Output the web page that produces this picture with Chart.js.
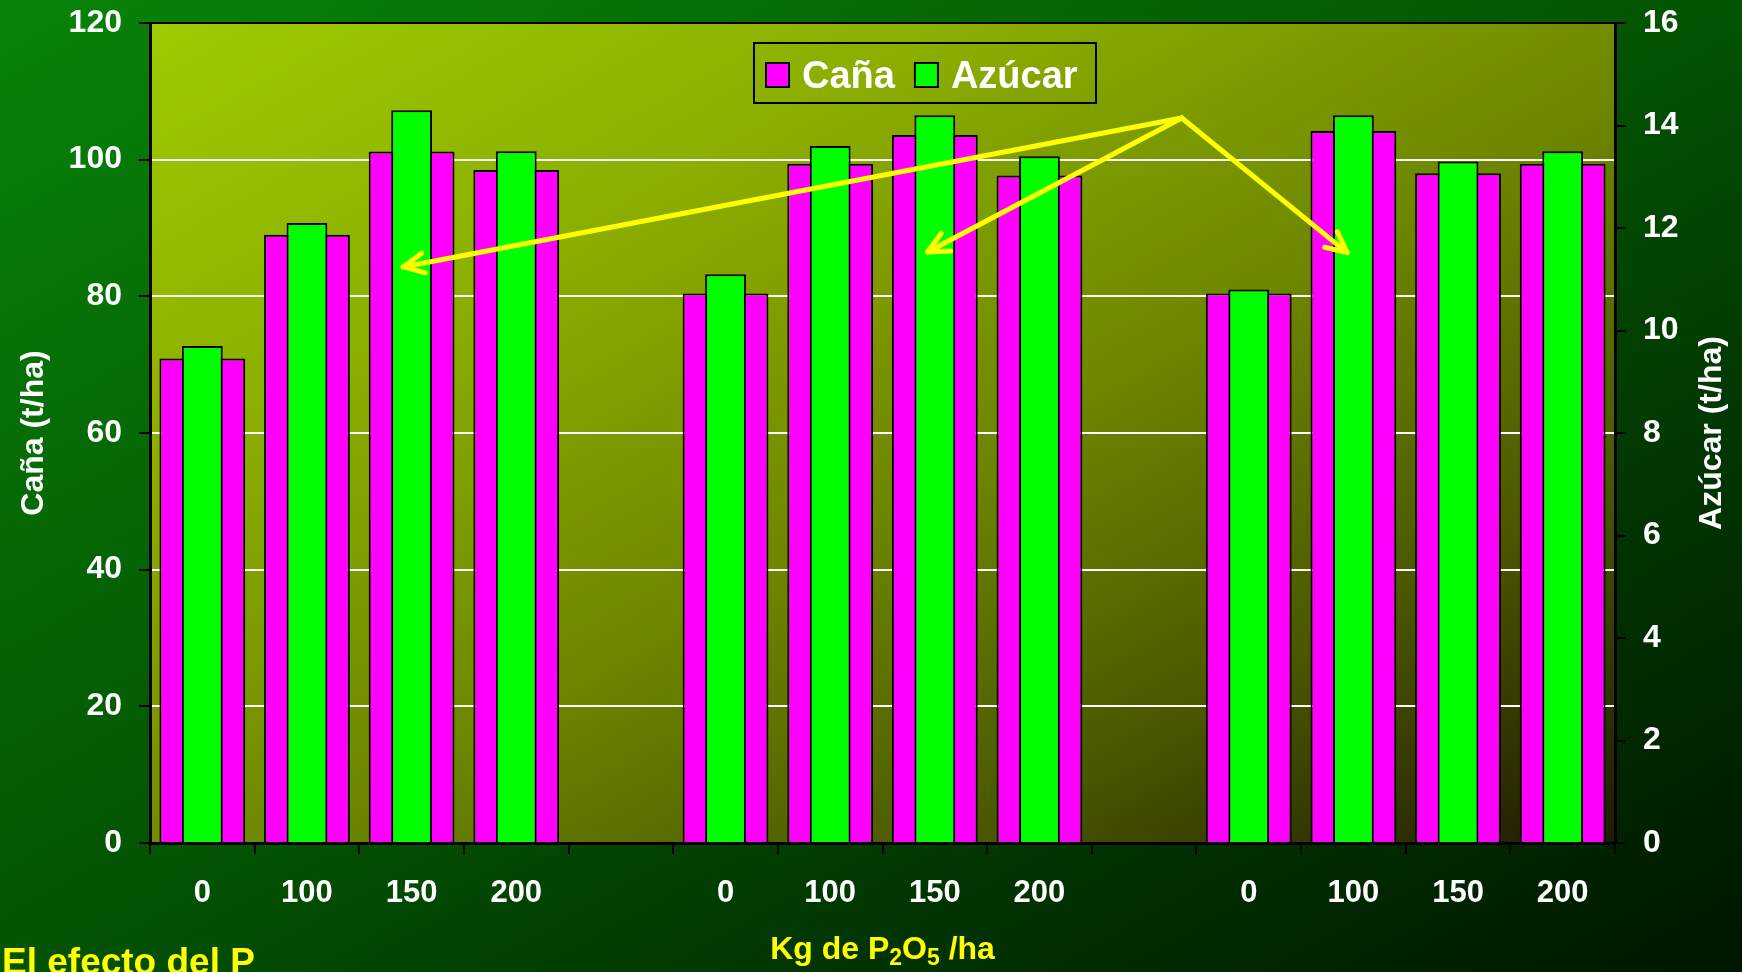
<!DOCTYPE html>
<html>
<head>
<meta charset="utf-8">
<script src="https://cdn.jsdelivr.net/npm/chart.js@4/dist/chart.umd.min.js"></script>
<style>
  html, body { margin: 0; padding: 0; overflow: hidden; }
  #wrap {
    width: 1742px; height: 972px; position: relative;
    background: linear-gradient(to bottom right, #088408 0%, #066e06 22%, #035303 50%, #023602 72%, #001600 100%);
  }
</style>
</head>
<body>
<div id="wrap"><canvas id="chart"></canvas></div>
<script>
// categories (empty slots separate the three trials)
const doses = ['0', '100', '150', '200', '', '0', '100', '150', '200', '', '0', '100', '150', '200'];
// Caña (t/ha), left axis
const cana = [70.9, 89.0, 101.2, 98.5, null, 80.4, 99.4, 103.6, 97.7, null, 80.4, 104.2, 98.0, 99.4];
// Azúcar (t/ha), right axis
const azucar = [9.7, 12.1, 14.3, 13.5, null, 11.1, 13.6, 14.2, 13.4, null, 10.8, 14.2, 13.3, 13.5];

const caneTicks = { max: 120, step: 20 };
const sugarTicks = { max: 16, step: 2 };

// arrows, in data units: [category index, Caña value]
const arrowApex = [9.36, 106.1];
const arrowTips = [[1.92, 84.3], [6.93, 86.5], [10.94, 86.4]];

const FONT = "'Liberation Sans', Arial, sans-serif";

const decor = {
  id: 'decor',
  beforeDraw(chart) {
    const { ctx, chartArea: a } = chart;
    const w = a.right - a.left, h = a.bottom - a.top;
    const len = w * h / Math.sqrt(w * w + h * h);
    const n = Math.sqrt(w * w + h * h);
    const cx = (a.left + a.right) / 2, cy = (a.top + a.bottom) / 2;
    const ux = h / n, uy = w / n;
    const g = ctx.createLinearGradient(cx - ux * len, cy - uy * len, cx + ux * len, cy + uy * len);
    g.addColorStop(0, '#9ccc00');
    g.addColorStop(0.3, '#89ab00');
    g.addColorStop(0.55, '#6c8600');
    g.addColorStop(0.78, '#4a5600');
    g.addColorStop(1, '#1c1a02');
    ctx.save();
    ctx.fillStyle = g;
    ctx.fillRect(a.left, a.top, w, h);
    ctx.restore();
  },
  afterDatasetsDraw(chart) {
    const { ctx, scales: { x, y } } = chart;
    const ax = x.getPixelForValue(arrowApex[0]), ay = y.getPixelForValue(arrowApex[1]);
    ctx.save();
    ctx.strokeStyle = '#ffff00';
    ctx.lineWidth = 5;
    ctx.lineCap = 'round';
    ctx.lineJoin = 'round';
    arrowTips.forEach(t => {
      const tx = x.getPixelForValue(t[0]), ty = y.getPixelForValue(t[1]);
      ctx.beginPath();
      ctx.moveTo(ax, ay);
      ctx.lineTo(tx, ty);
      ctx.stroke();
      const ang = Math.atan2(ay - ty, ax - tx);
      ctx.beginPath();
      ctx.moveTo(tx + 23 * Math.cos(ang - 0.45), ty + 23 * Math.sin(ang - 0.45));
      ctx.lineTo(tx, ty);
      ctx.lineTo(tx + 23 * Math.cos(ang + 0.45), ty + 23 * Math.sin(ang + 0.45));
      ctx.stroke();
    });
    ctx.restore();
  },
  afterDraw(chart) {
    const { ctx, chartArea: a } = chart;
    ctx.save();
    // top frame line
    ctx.strokeStyle = '#000';
    ctx.lineWidth = 2;
    ctx.beginPath();
    ctx.moveTo(a.left, a.top);
    ctx.lineTo(a.right, a.top);
    ctx.stroke();

    // legend
    const lx = 754, ly = 43, lw = 342, lh = 60;
    ctx.lineWidth = 2;
    ctx.strokeRect(lx, ly, lw, lh);
    ctx.font = 'bold 38px ' + FONT;
    ctx.textBaseline = 'alphabetic';
    let px = lx + 12;
    chart.data.datasets.forEach(ds => {
      ctx.fillStyle = ds.backgroundColor;
      ctx.fillRect(px, ly + 20, 23, 24);
      ctx.strokeStyle = '#000';
      ctx.strokeRect(px, ly + 20, 23, 24);
      px += 36;
      ctx.fillStyle = '#fff';
      ctx.fillText(ds.label, px, ly + 45);
      px += ctx.measureText(ds.label).width + 20;
    });

    // axis titles
    ctx.fillStyle = '#fff';
    ctx.font = 'bold 32px ' + FONT;
    ctx.textAlign = 'center';
    ctx.textBaseline = 'middle';
    const my = (a.top + a.bottom) / 2;
    ctx.save();
    ctx.translate(34, my);
    ctx.rotate(-Math.PI / 2);
    ctx.fillText('Caña (t/ha)', 0, 0);
    ctx.restore();
    ctx.save();
    ctx.translate(1712, my);
    ctx.rotate(-Math.PI / 2);
    ctx.fillText('Azúcar (t/ha)', 0, 0);
    ctx.restore();

    // x title with subscripts
    ctx.fillStyle = '#ffff00';
    ctx.textAlign = 'left';
    ctx.textBaseline = 'alphabetic';
    const parts = [['Kg de P', 0], ['2', 1], ['O', 0], ['5', 1], [' /ha', 0]];
    const big = 'bold 32px ' + FONT, small = 'bold 23px ' + FONT;
    let total = 0;
    parts.forEach(p => { ctx.font = p[1] ? small : big; total += ctx.measureText(p[0]).width; });
    let tx = (a.left + a.right) / 2 - total / 2;
    const base = 959;
    parts.forEach(p => {
      ctx.font = p[1] ? small : big;
      ctx.fillText(p[0], tx, base + (p[1] ? 6 : 0));
      tx += ctx.measureText(p[0]).width;
    });

    ctx.font = 'bold 37px ' + FONT;
    ctx.fillText('El efecto del P', 2, 974);
    ctx.restore();
  }
};

function noPad(s) {
  s.paddingTop = 0;
  s.paddingBottom = 0;
}

new Chart(document.getElementById('chart'), {
  type: 'bar',
  data: {
    labels: doses,
    datasets: [
      {
        label: 'Caña',
        data: cana,
        yAxisID: 'y',
        backgroundColor: '#ff00ff',
        borderColor: '#000',
        borderWidth: 2,
        borderSkipped: 'bottom',
        grouped: false,
        barPercentage: 0.82,
        categoryPercentage: 1,
        order: 2
      },
      {
        label: 'Azúcar',
        data: azucar,
        yAxisID: 'y1',
        backgroundColor: '#00ff00',
        borderColor: '#000',
        borderWidth: 2,
        borderSkipped: 'bottom',
        grouped: false,
        barPercentage: 0.39,
        categoryPercentage: 1,
        order: 1
      }
    ]
  },
  options: {
    responsive: true,
    maintainAspectRatio: false,
    animation: false,
    layout: { padding: { top: 23, left: 0, right: 0, bottom: 0 } },
    plugins: { legend: { display: false }, tooltip: { enabled: false } },
    scales: {
      x: {
        afterFit(s) { s.height = 129; s.paddingLeft = 0; s.paddingRight = 0; },
        grid: { drawOnChartArea: false, tickColor: '#000', tickLength: 11, lineWidth: 2, offset: true },
        border: { color: '#000', width: 3 },
        ticks: { color: '#fff', font: { family: FONT, size: 31, weight: 'bold' }, padding: 21, maxRotation: 0, autoSkip: false }
      },
      y: {
        position: 'left',
        min: 0,
        max: caneTicks.max,
        afterFit(s) { s.width = 150; noPad(s); },
        grid: {
          color: c => (c.tick && (c.tick.value === 0 || c.tick.value === caneTicks.max)) ? 'rgba(0,0,0,0)' : '#ffffff',
          lineWidth: 2,
          tickColor: '#000',
          tickLength: 11
        },
        border: { color: '#000', width: 3 },
        ticks: { stepSize: caneTicks.step, color: '#fff', font: { family: FONT, size: 32, weight: 'bold' }, padding: 17 }
      },
      y1: {
        position: 'right',
        min: 0,
        max: sugarTicks.max,
        afterFit(s) { s.width = 127; noPad(s); },
        grid: { drawOnChartArea: false, tickColor: '#000', tickLength: 11, lineWidth: 2 },
        border: { color: '#000', width: 3 },
        ticks: { stepSize: sugarTicks.step, color: '#fff', font: { family: FONT, size: 32, weight: 'bold' }, padding: 17 }
      }
    }
  },
  plugins: [decor]
});
</script>
</body>
</html>
